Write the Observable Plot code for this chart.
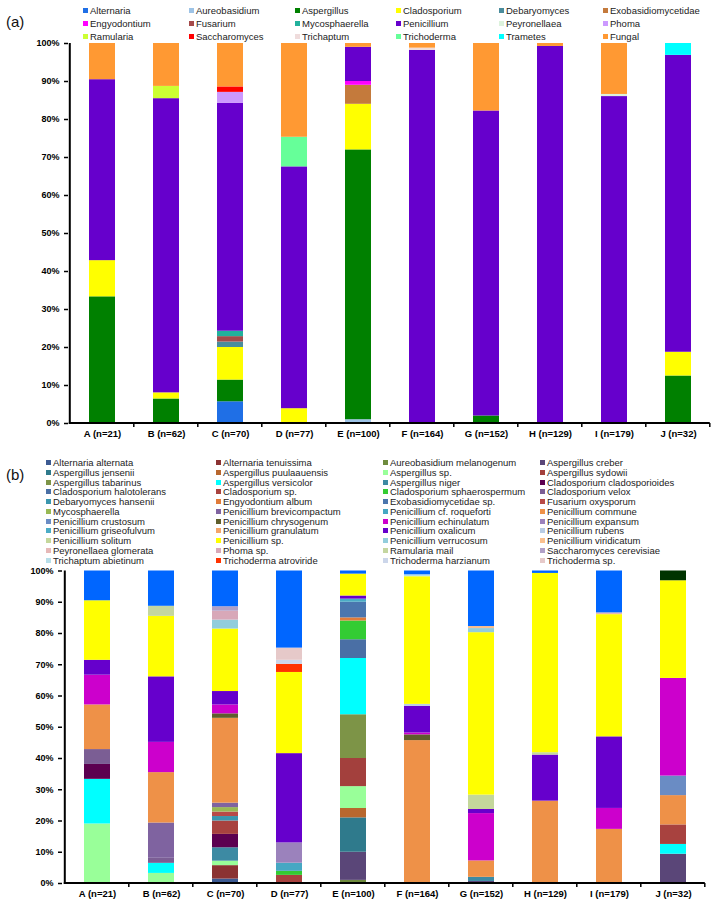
<!DOCTYPE html>
<html>
<head>
<meta charset="utf-8">
<script src="https://cdn.jsdelivr.net/npm/d3@7"></script>
<script src="https://cdn.jsdelivr.net/npm/@observablehq/plot@0.6"></script>
<style>
  body { margin: 0; background: #fff; font-family: "Liberation Sans", Arial, sans-serif; }
  #page { position: relative; width: 719px; height: 906px; overflow: hidden; background: #fff; }
  .plabel { position: absolute; left: 6px; font-size: 15px; line-height: 18px; color: #111; }
  .item { position: absolute; font-size: 9.5px; line-height: 12px; white-space: nowrap; color: #222; }
  .sw { display: inline-block; width: 5px; height: 5px; margin-right: 2px; vertical-align: 1px; }
  .svgwrap { position: absolute; left: 0; }
</style>
</head>
<body>
<div id="page"></div>
<script>
// ---------------- DATA ----------------
const samples = ["A", "B", "C", "D", "E", "F", "G", "H", "I", "J"];
const sampleN = [21, 62, 70, 77, 100, 164, 152, 129, 179, 32];
const yTicksPct = [0, 10, 20, 30, 40, 50, 60, 70, 80, 90, 100];

// Panel (a): genera, in legend / stacking order
const genera = ["Alternaria", "Aureobasidium", "Aspergillus", "Cladosporium", "Debaryomyces", "Exobasidiomycetidae",
  "Engyodontium", "Fusarium", "Mycosphaerella", "Penicillium", "Peyronellaea", "Phoma",
  "Ramularia", "Saccharomyces", "Trichaptum", "Trichoderma", "Trametes", "Fungal"];
const generaColors = ["#1F6FE6", "#9DC3E6", "#008000", "#FFFF00", "#4A8C9C", "#C47A3C",
  "#FF00FF", "#A54A4A", "#22B19C", "#6600CC", "#DCF2DC", "#CC99FF",
  "#CCFF33", "#FF0000", "#EFDCDC", "#66FF99", "#00FFFF", "#FF9933"];

// isolate counts per sample, panel (a)
const genusA = [["Aspergillus", 7], ["Cladosporium", 2], ["Penicillium", 10], ["Fungal", 2]];
const genusB = [["Aspergillus", 4], ["Cladosporium", 1], ["Penicillium", 48], ["Ramularia", 2], ["Fungal", 7]];
const genusC = [["Alternaria", 4], ["Aspergillus", 4], ["Cladosporium", 6], ["Debaryomyces", 1], ["Fusarium", 1],
  ["Mycosphaerella", 1], ["Penicillium", 42], ["Phoma", 2], ["Saccharomyces", 1], ["Fungal", 8]];
const genusD = [["Cladosporium", 3], ["Penicillium", 49], ["Trichoderma", 6], ["Fungal", 19]];
const genusE = [["Aureobasidium", 1], ["Aspergillus", 71], ["Cladosporium", 12], ["Exobasidiomycetidae", 5],
  ["Engyodontium", 1], ["Penicillium", 9], ["Fungal", 1]];
const genusF = [["Penicillium", 161], ["Trichaptum", 1], ["Fungal", 2]];
const genusG = [["Aspergillus", 3], ["Penicillium", 122], ["Fungal", 27]];
const genusH = [["Penicillium", 128], ["Fungal", 1]];
const genusI = [["Penicillium", 154], ["Peyronellaea", 1], ["Fungal", 24]];
const genusJ = [["Aspergillus", 4], ["Cladosporium", 2], ["Penicillium", 25], ["Trametes", 1]];

// Panel (b): species, in legend / stacking order
const species = ["Alternaria alternata", "Alternaria tenuissima", "Aureobasidium melanogenum", "Aspergillus creber",
  "Aspergillus jensenii", "Aspergillus puulaauensis", "Aspergillus sp.", "Aspergillus sydowii",
  "Aspergillus tabarinus", "Aspergillus versicolor", "Aspergillus niger", "Cladosporium cladosporioides",
  "Cladosporium halotolerans", "Cladosporium sp.", "Cladosporium sphaerospermum", "Cladosporium velox",
  "Debaryomyces hansenii", "Engyodontium album", "Exobasidiomycetidae sp.", "Fusarium oxysporum",
  "Mycosphaerella", "Penicillium brevicompactum", "Penicillium cf. roqueforti", "Penicillium commune",
  "Penicillium crustosum", "Penicillium chrysogenum", "Penicillium echinulatum", "Penicillium expansum",
  "Penicillium griseofulvum", "Penicillium granulatum", "Penicillium oxalicum", "Penicillium rubens",
  "Penicillium solitum", "Penicillium sp.", "Penicillium verrucosum", "Penicillium viridicatum",
  "Peyronellaea glomerata", "Phoma sp.", "Ramularia mail", "Saccharomyces cerevisiae",
  "Trichaptum abietinum", "Trichoderma atroviride", "Trichoderma harzianum", "Trichoderma sp."];
const speciesColors = ["#3C5A92", "#8B3232", "#6E8B3D", "#5A4678",
  "#2F7A8C", "#B8672E", "#99FF99", "#A3403D",
  "#7D9447", "#00FFFF", "#3D8AA3", "#5C0050",
  "#4A6FA5", "#A8423F", "#33CC33", "#7B5E94",
  "#3A96AE", "#E07B39", "#4A76AE", "#B84A47",
  "#98B954", "#7F63A0", "#46A7C3", "#EE9148",
  "#6A8CC4", "#5E5E2C", "#CC00CC", "#9B82BC",
  "#4BACC6", "#F4A56A", "#6600CC", "#B8CCE4",
  "#C4D79B", "#FFFF00", "#92CDDC", "#FAC08F",
  "#E6B8B7", "#D8A8B8", "#C4D6A0", "#B1A0C7",
  "#B7DEE8", "#FF3300", "#CCD6EA", "#E6C9C9"];
// series drawn in (b) but not listed in its legend
const speciesExtra = ["Fungal", "Trametes sp."];
const speciesExtraColors = ["#0066FF", "#003300"];

const spA = [["Aspergillus sp.", 4], ["Aspergillus versicolor", 3], ["Cladosporium cladosporioides", 1], ["Cladosporium velox", 1],
  ["Penicillium commune", 3], ["Penicillium echinulatum", 2], ["Penicillium oxalicum", 1], ["Penicillium sp.", 4], ["Fungal", 2]];
const spB = [["Aspergillus sp.", 2], ["Aspergillus versicolor", 2], ["Cladosporium velox", 1], ["Penicillium brevicompactum", 7],
  ["Penicillium commune", 10], ["Penicillium echinulatum", 6], ["Penicillium oxalicum", 13], ["Penicillium sp.", 12],
  ["Ramularia mail", 2], ["Fungal", 7]];
const spC = [["Alternaria alternata", 1], ["Alternaria tenuissima", 3], ["Aspergillus sp.", 1], ["Aspergillus niger", 3],
  ["Cladosporium cladosporioides", 3], ["Cladosporium sp.", 3], ["Debaryomyces hansenii", 1], ["Fusarium oxysporum", 1],
  ["Mycosphaerella", 1], ["Penicillium brevicompactum", 1], ["Penicillium commune", 19], ["Penicillium chrysogenum", 1],
  ["Penicillium echinulatum", 2], ["Penicillium oxalicum", 3], ["Penicillium sp.", 14], ["Penicillium verrucosum", 2],
  ["Phoma sp.", 2], ["Saccharomyces cerevisiae", 1], ["Fungal", 8]];
const spD = [["Cladosporium sp.", 2], ["Cladosporium sphaerospermum", 1], ["Penicillium cf. roqueforti", 2],
  ["Penicillium expansum", 5], ["Penicillium oxalicum", 22], ["Penicillium sp.", 20], ["Trichoderma atroviride", 2],
  ["Trichoderma harzianum", 1], ["Trichoderma sp.", 3], ["Fungal", 19]];
const spE = [["Aureobasidium melanogenum", 1], ["Aspergillus creber", 9], ["Aspergillus jensenii", 11],
  ["Aspergillus puulaauensis", 3], ["Aspergillus sp.", 7], ["Aspergillus sydowii", 9], ["Aspergillus tabarinus", 14],
  ["Aspergillus versicolor", 18], ["Cladosporium halotolerans", 6], ["Cladosporium sphaerospermum", 6],
  ["Engyodontium album", 1], ["Exobasidiomycetidae sp.", 5], ["Penicillium griseofulvum", 1],
  ["Penicillium oxalicum", 1], ["Penicillium sp.", 7], ["Fungal", 1]];
const spF = [["Penicillium commune", 75], ["Penicillium chrysogenum", 3], ["Penicillium echinulatum", 1],
  ["Penicillium oxalicum", 14], ["Penicillium rubens", 1], ["Penicillium sp.", 67], ["Trichaptum abietinum", 1], ["Fungal", 2]];
const spG = [["Aspergillus creber", 1], ["Aspergillus niger", 2], ["Penicillium commune", 8], ["Penicillium echinulatum", 23],
  ["Penicillium oxalicum", 2], ["Penicillium solitum", 7], ["Penicillium sp.", 79], ["Penicillium verrucosum", 2],
  ["Penicillium viridicatum", 1], ["Fungal", 27]];
const spH = [["Penicillium commune", 34], ["Penicillium oxalicum", 19], ["Penicillium solitum", 1], ["Penicillium sp.", 74], ["Fungal", 1]];
const spI = [["Penicillium commune", 31], ["Penicillium echinulatum", 12], ["Penicillium oxalicum", 41], ["Penicillium sp.", 70],
  ["Peyronellaea glomerata", 1], ["Fungal", 24]];
const spJ = [["Aspergillus creber", 3], ["Aspergillus versicolor", 1], ["Cladosporium sp.", 2], ["Penicillium commune", 3],
  ["Penicillium crustosum", 2], ["Penicillium echinulatum", 10], ["Penicillium sp.", 10], ["Trametes sp.", 1]];

// ---------------- BUILD ----------------
const catLabels = samples.map((s, i) => `${s} (n=${sampleN[i]})`);
const genusBySample = [genusA, genusB, genusC, genusD, genusE, genusF, genusG, genusH, genusI, genusJ];
const speciesBySample = [spA, spB, spC, spD, spE, spF, spG, spH, spI, spJ];

function rows(bySample, order) {
  const out = [];
  bySample.forEach((list, i) => {
    list.slice().sort((a, b) => order.indexOf(a[0]) - order.indexOf(b[0]))
      .forEach(([name, count]) => out.push({cat: catLabels[i], name, count}));
  });
  return out;
}

const page = document.getElementById("page");

function addLegend(names, colors, colX, rowY) {
  const ncol = colX.length;
  names.forEach((n, i) => {
    const d = document.createElement("div");
    d.className = "item";
    d.style.left = (colX[i % ncol]) + "px";
    d.style.top = (rowY(Math.floor(i / ncol)) - 6) + "px";
    d.innerHTML = `<span class="sw" style="background:${colors[i]}"></span>${n}`;
    page.appendChild(d);
  });
}

function addLabel(text, top) {
  const d = document.createElement("div");
  d.className = "plabel";
  d.style.top = top + "px";
  d.textContent = text;
  page.appendChild(d);
}

// custom axis-line mark: y axis line, x axis line, and tick marks at category boundaries
function excelAxes(cats) {
  return (index, scales) => {
    const x = scales.x, y = scales.y;
    const step = x(cats[1]) - x(cats[0]);
    const x0 = x(cats[0]) - 0.3 * step;
    const x1 = x(cats[cats.length - 1]) + 0.7 * step;
    const y0 = y(0), y1 = y(1);
    const g = d3.create("svg:g").attr("stroke", "#000").attr("fill", "none");
    g.append("line").attr("x1", x0).attr("x2", x0).attr("y1", y0 + 1).attr("y2", y1).attr("stroke-width", 2);
    g.append("line").attr("x1", x0 - 1).attr("x2", x1).attr("y1", y0).attr("y2", y0).attr("stroke-width", 2);
    for (let k = 1; k <= cats.length; k++) {
      const xp = x0 + k * step;
      g.append("line").attr("x1", xp).attr("x2", xp).attr("y1", y0).attr("y2", y0 + 4).attr("stroke-width", 1.5);
    }
    return g.node();
  };
}

function makePlot(data, domain, range, opts) {
  return Plot.plot({
    width: 719,
    height: opts.height,
    marginTop: opts.mt,
    marginBottom: opts.mb,
    marginLeft: opts.ml,
    marginRight: opts.mr,
    style: {fontFamily: "'Liberation Sans', Arial, sans-serif", background: "transparent", color: "#000", overflow: "visible"},
    x: {domain: catLabels, paddingInner: 0.6, paddingOuter: 0.3, label: null},
    y: {domain: [0, 1], label: null},
    color: {type: "ordinal", domain, range},
    marks: [
      Plot.barY(data, Plot.stackY({offset: "normalize", order: null}, {x: "cat", y: "count", fill: "name"})),
      excelAxes(catLabels),
      Plot.axisY({ticks: yTicksPct.map(d => d / 100), tickFormat: d => Math.round(d * 100) + "%",
        tickSize: 4, tickPadding: 5, fontSize: 9, fontWeight: "bold", strokeWidth: 1.5, label: null}),
      Plot.axisX({tickSize: 0, tickPadding: 7, fontSize: 9.5, fontWeight: "bold", label: null})
    ]
  });
}

// Panel (a)
addLabel("(a)", 13);
addLegend(genera, generaColors, [83, 189, 295, 396, 499, 603], r => 11 + r * 13);
const plotA = makePlot(rows(genusBySample, genera), genera, generaColors, {height: 410, mt: 3, mb: 27, ml: 68, mr: 8});
const wa = document.createElement("div");
wa.className = "svgwrap"; wa.style.top = "40px";
wa.appendChild(plotA);
page.appendChild(wa);

// Panel (b)
addLabel("(b)", 466);
addLegend(species, speciesColors, [46, 216, 383, 540], r => 463 + r * 9.75);
const allSp = species.concat(speciesExtra);
const allSpColors = speciesColors.concat(speciesExtraColors);
const plotB = makePlot(rows(speciesBySample, allSp), allSp, allSpColors, {height: 340, mt: 4.5, mb: 23, ml: 62, mr: 11});
const wb = document.createElement("div");
wb.className = "svgwrap"; wb.style.top = "566px";
wb.appendChild(plotB);
page.appendChild(wb);
</script>
</body>
</html>
